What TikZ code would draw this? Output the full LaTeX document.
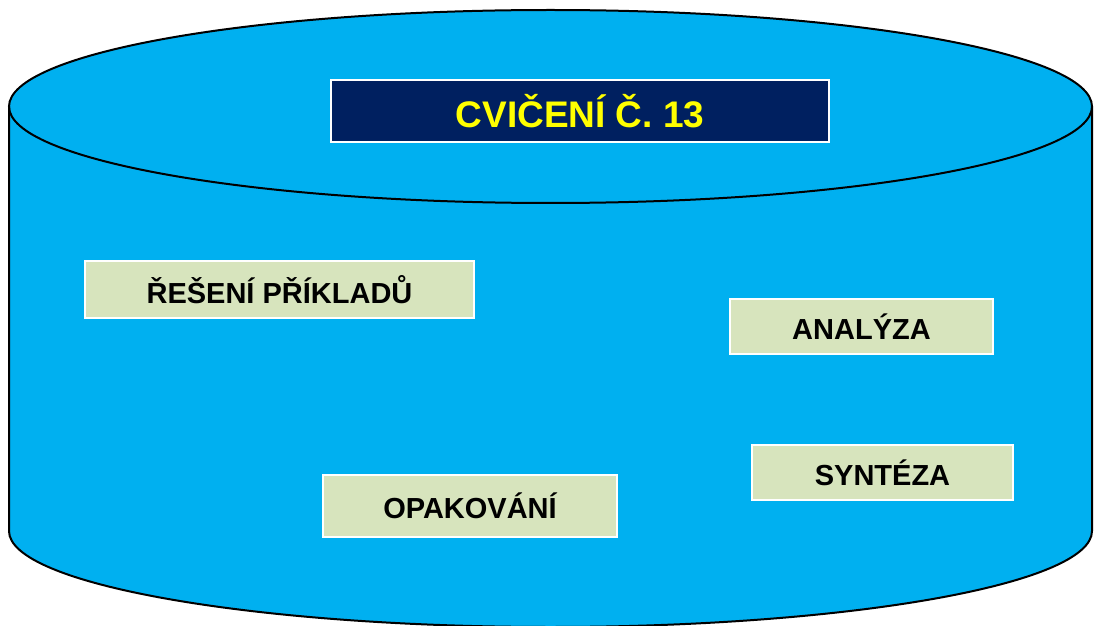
\documentclass[tikz,border=0pt]{standalone}
\usepackage{fontspec}
\setmainfont{Liberation Sans}
\definecolor{cyl}{HTML}{00B0F0}
\definecolor{navy}{HTML}{002060}
\definecolor{lbl}{HTML}{D7E4BD}
\definecolor{ttl}{HTML}{FFFF00}
\begin{document}
\begin{tikzpicture}[x=1pt,y=1pt,
  box/.style={rectangle, draw=white, line width=1.5pt, fill=lbl, inner sep=0pt,
    font=\bfseries\fontsize{29}{34}\selectfont, text=black},
  titlebox/.style={rectangle, draw=white, line width=1.5pt, fill=navy, inner sep=0pt,
    font=\bfseries\fontsize{37}{42}\selectfont, text=ttl},
  outline/.style={line width=2pt, black}]
\useasboundingbox (0,0) rectangle (1095,625);
% cylinder body
\fill[cyl] (9,518.5) -- (9,94) arc[start angle=180,end angle=360,x radius=541.5,y radius=96]
  -- (1092,518.5) arc[start angle=0,end angle=180,x radius=541.5,y radius=96.5] -- cycle;
\draw[outline] (9,518.5) -- (9,94) arc[start angle=180,end angle=360,x radius=541.5,y radius=96]
  -- (1092,518.5);
\draw[outline] (550.5,518.5) ellipse[x radius=541.5,y radius=96.5];
% boxes
\node[titlebox, minimum width=498pt, minimum height=62pt] (title) at (580,514) {CVIČENÍ Č. 13};
\node[box, minimum width=389pt, minimum height=57pt] (reseni) at (279.5,335.5) {ŘEŠENÍ PŘÍKLADŮ};
\node[box, minimum width=263pt, minimum height=55pt] (analyza) at (861.5,298.5) {ANALÝZA};
\node[box, minimum width=261pt, minimum height=55pt] (synteza) at (882.5,152.5) {SYNTÉZA};
\node[box, minimum width=294pt, minimum height=62pt] (opak) at (470,119) {OPAKOVÁNÍ};
\end{tikzpicture}
\end{document}
